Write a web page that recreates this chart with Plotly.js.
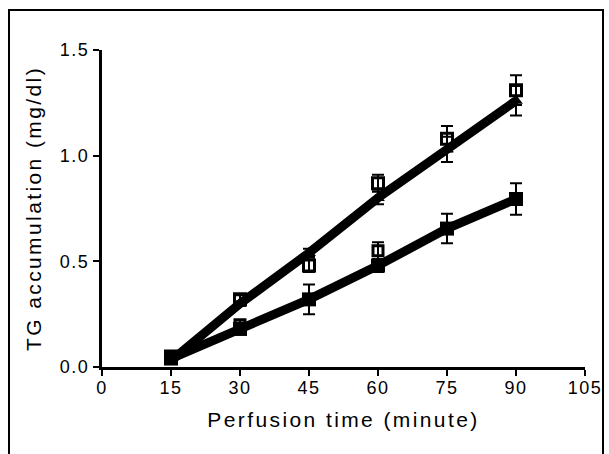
<!DOCTYPE html>
<html>
<head>
<meta charset="utf-8">
<script src="https://cdn.plot.ly/plotly-3.0.1.min.js"></script>
<style>
html,body{margin:0;padding:0;background:#fff;}
#frame{position:absolute;left:8px;top:9px;width:596px;height:460px;border:2px solid #000;box-sizing:border-box;}
#chart{position:absolute;left:0;top:0;width:609px;height:454px;}
#chart .xtick text, #chart .ytick text{letter-spacing:1.5px;}
#chart text.xtitle, #chart text.ytitle{letter-spacing:2.4px;}
</style>
</head>
<body>
<div id="frame"></div>
<div id="chart"></div>
<script>
// Perfusion time (minute)
const times = [15, 30, 45, 60, 75, 90];
// Upper group: fitted line series and open-square series
const upperFilled = [0.03, 0.30, 0.54, 0.80, 1.03, 1.26];
const upperFilledErr = [0.01, 0.01, 0.02, 0.03, 0.06, 0.07];
const upperOpen = [0.05, 0.32, 0.48, 0.87, 1.08, 1.31];
const upperOpenErr = [0.01, 0.02, 0.03, 0.04, 0.06, 0.07];
// Lower group
const lowerFilled = [0.04, 0.18, 0.32, 0.48, 0.655, 0.795];
const lowerFilledErr = [0.01, 0.02, 0.07, 0.03, 0.07, 0.075];
const lowerOpenTimes = [30, 60];
const lowerOpen = [0.20, 0.55];
const lowerOpenErr = [0.02, 0.04];
// Axis ticks
const xTicks = [0, 15, 30, 45, 60, 75, 90, 105];
const yTicks = [0.0, 0.5, 1.0, 1.5];
const yTickText = ['0.0', '0.5', '1.0', '1.5'];

const errStyle = {type: 'data', visible: true, color: '#000', thickness: 2, width: 6};

const traces = [
  {x: times, y: upperFilled, type: 'scatter', mode: 'lines+markers',
   line: {color: '#000', width: 9},
   marker: {symbol: 'triangle-up', size: 12, color: '#000'},
   error_y: Object.assign({array: upperFilledErr}, errStyle), showlegend: false},
  {x: times, y: lowerFilled, type: 'scatter', mode: 'lines+markers',
   line: {color: '#000', width: 9},
   marker: {symbol: 'square', size: 14, color: '#000'},
   error_y: Object.assign({array: lowerFilledErr}, errStyle), showlegend: false},
  {x: times, y: upperOpen, type: 'scatter', mode: 'markers',
   marker: {symbol: 'square-open', size: 11, color: '#000', line: {width: 3, color: '#000'}},
   error_y: Object.assign({array: upperOpenErr}, errStyle), showlegend: false},
  {x: lowerOpenTimes, y: lowerOpen, type: 'scatter', mode: 'markers',
   marker: {symbol: 'square-open', size: 10, color: '#000', line: {width: 3, color: '#000'}},
   error_y: Object.assign({array: lowerOpenErr}, errStyle), showlegend: false}
];

const font = {family: 'Liberation Sans, Arial, sans-serif', color: '#000'};

const layout = {
  width: 609, height: 454,
  margin: {l: 102, r: 24, t: 50, b: 87},
  paper_bgcolor: 'rgba(0,0,0,0)', plot_bgcolor: 'rgba(0,0,0,0)',
  showlegend: false,
  font: font,
  xaxis: {
    range: [0, 105], tickvals: xTicks, ticktext: xTicks.map(String),
    showgrid: false, zeroline: false, showline: true, linecolor: '#000', linewidth: 3,
    ticks: 'outside', ticklen: 6, tickwidth: 2, tickcolor: '#000',
    ticklabelstandoff: -4,
    tickfont: Object.assign({size: 18}, font),
    title: {text: 'Perfusion time (minute)', font: Object.assign({size: 21}, font), standoff: 16}
  },
  yaxis: {
    range: [0, 1.5], tickvals: yTicks, ticktext: yTickText,
    showgrid: false, zeroline: false, showline: true, linecolor: '#000', linewidth: 3,
    ticks: 'outside', ticklen: 6, tickwidth: 2, tickcolor: '#000',
    tickfont: Object.assign({size: 18}, font),
    title: {text: 'TG accumulation (mg/dl)', font: Object.assign({size: 21}, font), standoff: 18}
  }
};

Plotly.newPlot('chart', traces, layout, {displayModeBar: false, staticPlot: true});
</script>
</body>
</html>
